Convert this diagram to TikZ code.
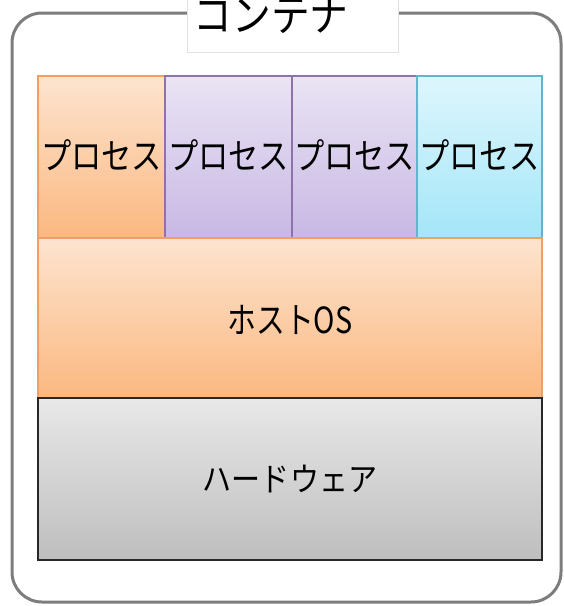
\documentclass[tikz,border=0pt]{standalone}
\usepackage{fontspec}
\usepackage{graphicx}
\setmainfont{Noto Sans CJK JP}
\newcommand{\sqz}[2]{\scalebox{#1}[1]{#2}}
\begin{document}
\begin{tikzpicture}[x=1pt,y=-1pt,
  layer/.style={draw, line width=1.2pt, shading=axis, shading angle=0, inner sep=0pt},
  orng/.style={layer, draw={rgb,255:red,240;green,160;blue,100}, top color={rgb,255:red,253;green,228;blue,208}, bottom color={rgb,255:red,251;green,184;blue,128}},
  purp/.style={layer, draw={rgb,255:red,140;green,115;blue,170}, top color={rgb,255:red,234;green,228;blue,244}, bottom color={rgb,255:red,200;green,184;blue,228}},
  cyan/.style={layer, draw={rgb,255:red,100;green,180;blue,205}, top color={rgb,255:red,222;green,246;blue,253}, bottom color={rgb,255:red,164;green,230;blue,248}},
  grey/.style={layer, draw={rgb,255:red,40;green,40;blue,40}, top color={rgb,255:red,232;green,232;blue,232}, bottom color={rgb,255:red,190;green,190;blue,190}},
  lbl/.style={font=\fontsize{36}{38}\selectfont, text=black, inner sep=0pt}]
\useasboundingbox (0,0) rectangle (564,606);
\clip (0,0) rectangle (564,606);
\draw[line width=3pt, draw={rgb,255:red,125;green,125;blue,125}, rounded corners=30pt] (12,13) rectangle (561,602);
\node[draw={rgb,255:red,225;green,225;blue,225}, fill=white, line width=0.8pt, minimum width=211pt, minimum height=60pt, anchor=south west, inner sep=0pt] (titlebox) at (187,53) {};
\node[font=\fontsize{44}{46}\selectfont, anchor=center, inner sep=0pt] (title) at (271,16) {\sqz{0.88}{コンテナ}};
\path[orng] (38,76) rectangle (165,238);
\path[purp] (165,76) rectangle (292,238);
\path[purp] (292,76) rectangle (417,238);
\path[cyan] (417,76) rectangle (542,238);
\node[lbl] (p1) at (101.5,155) {\sqz{0.84}{プロセス}};
\node[lbl] (p2) at (228.5,155) {\sqz{0.84}{プロセス}};
\node[lbl] (p3) at (354.5,155) {\sqz{0.84}{プロセス}};
\node[lbl] (p4) at (479.5,155) {\sqz{0.84}{プロセス}};
\path[orng] (38,238) rectangle (542,398);
\node[lbl] (os) at (290,320) {\sqz{0.8}{ホストOS}};
\path[grey] (38,398) rectangle (542,560);
\node[lbl, font=\fontsize{33}{35}\selectfont] (hw) at (290,479) {\sqz{0.88}{ハードウェア}};
\end{tikzpicture}
\end{document}
